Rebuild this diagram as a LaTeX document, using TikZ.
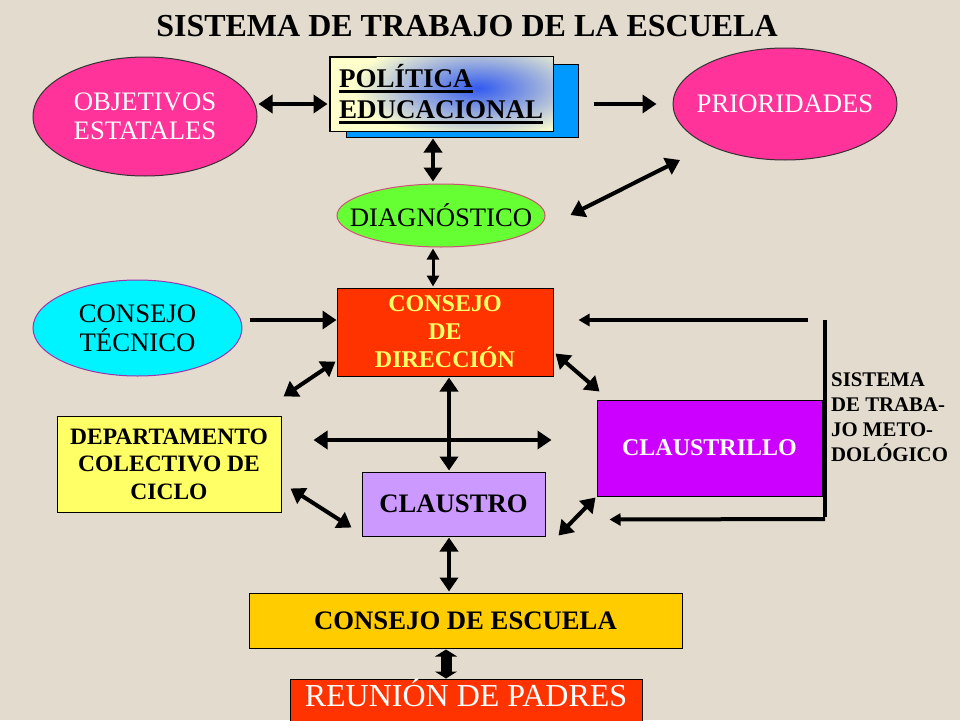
\documentclass[tikz,border=0pt]{standalone}
\usepackage{fontspec}
\setmainfont{Liberation Serif}
\usetikzlibrary{shapes.geometric,arrows.meta,calc}
\definecolor{bgc}{HTML}{E2DBCE}
\definecolor{pinkc}{HTML}{FF3399}
\definecolor{creamc}{HTML}{FFFFCC}
\definecolor{bluebk}{HTML}{0099FF}
\definecolor{greenc}{HTML}{66FF33}
\definecolor{cyanc}{HTML}{00F4FF}
\definecolor{redc}{HTML}{FF3300}
\definecolor{yelc}{HTML}{FFFF66}
\definecolor{lavc}{HTML}{CC99FF}
\definecolor{purc}{HTML}{CC00FF}
\definecolor{goldc}{HTML}{FFCC00}
\definecolor{blueblob}{RGB}{50,90,240}
\newcommand\myfs[2]{\fontsize{#1}{#2}\selectfont}
\newcommand\ulbox[1]{\leavevmode\vtop{\hbox{#1}\kern2.5pt\hrule height 3pt}}
\tikzset{
  box/.style={rectangle, draw=black, line width=1pt, inner sep=0pt},
  oval/.style={ellipse, line width=1pt, inner sep=0pt},
  tip/.tip={Triangle[length=14pt,width=18pt]},
  smalltip/.tip={Triangle[length=11pt,width=12pt]},
  arr/.style={line width=4.5pt, -tip},
  darr/.style={line width=4.5pt, tip-tip},
  diagarr/.style={line width=4pt, tip-tip},
  thinarr/.style={line width=3pt, smalltip-smalltip},
  brarr/.style={line width=4pt, -smalltip},
  brline/.style={line width=4pt},
  fatarr/.style={line width=11pt, {Triangle[length=7pt,width=22pt]}-{Triangle[length=7pt,width=22pt]}},
}
\begin{document}
\begin{tikzpicture}[x=1pt,y=-1pt]
\fill[bgc] (0,0) rectangle (960,720);
\useasboundingbox (0,0) rectangle (960,720);

% title
\node[anchor=base, font={\myfs{32}{35}\bfseries}] (title) at (467,36) {SISTEMA DE TRABAJO DE LA ESCUELA};

% top row
\node[oval, fill=pinkc, draw=black!80, minimum width=224, minimum height=119,
  label={[text=white, align=center, font={\myfs{26.7}{28.5}}]center:OBJETIVOS\\ESTATALES}] (obj) at (145,116.5) {};
\node[box, fill=bluebk, minimum width=232, minimum height=73] (polback) at (462,100.5) {};
\node[box, fill=creamc, minimum width=223, minimum height=74] (pol) at (441.5,94) {};
\begin{scope}
\clip (pol.south west) rectangle (pol.north east);
\shade[inner color=blueblob, outer color=creamc] (478,88) ellipse [x radius=125, y radius=52];
\end{scope}
\draw[line width=1pt] (pol.south west) rectangle (pol.north east);
\node[anchor=base west, inner sep=0pt, font={\myfs{27}{31}\bfseries}] (pol1) at (339,87) {\ulbox{POLÍTICA}};
\node[anchor=base west, inner sep=0pt, font={\myfs{27}{31}\bfseries}] (pol2) at (339,118) {\ulbox{EDUCACIONAL}};
\node[oval, fill=pinkc, draw=black!80, minimum width=224, minimum height=112,
  label={[text=white, font={\myfs{26.7}{28.5}}]center:PRIORIDADES}] (pri) at (785,104) {};
\node[oval, fill=greenc, draw={rgb,255:red,210;green,80;blue,120}, minimum width=208, minimum height=63,
  label={[font={\myfs{26.7}{28.5}}]center:DIAGNÓSTICO}] (diag) at (441,215.5) {};

% middle
\node[oval, fill=cyanc, draw={rgb,255:red,160;green,50;blue,170}, minimum width=209, minimum height=96,
  label={[align=center, font={\myfs{26.7}{29}}]center:CONSEJO\\TÉCNICO}] (ct) at (137.5,328) {};
\node[box, fill=redc, minimum width=216, minimum height=88, text=yelc, align=center, font={\myfs{24}{28}\bfseries}] (cd) at (445,332) {CONSEJO\\DE\\DIRECCIÓN};
\node[box, fill=yelc, minimum width=224, minimum height=96, align=center, font={\myfs{23.5}{27.5}\bfseries}] (dept) at (169,464) {DEPARTAMENTO\\COLECTIVO DE\\CICLO};
\node[box, fill=lavc, minimum width=183, minimum height=64, font={\myfs{26.7}{28}\bfseries}] (cl) at (453.5,504) {CLAUSTRO};
\node[box, fill=purc, minimum width=225, minimum height=96, text=white, font={\myfs{24}{28}\bfseries}] (cll) at (709.5,448) {CLAUSTRILLO};
\node[anchor=west, inner sep=0pt, align=left, font={\myfs{20.8}{25}\bfseries}] (stm) at (831,417) {SISTEMA\\DE TRABA-\\JO METO-\\DOLÓGICO};

% bottom
\node[box, fill=goldc, minimum width=433, minimum height=55, font={\myfs{26.7}{28}\bfseries}] (ce) at (465.5,620.5) {CONSEJO DE ESCUELA};
\node[box, fill=redc, minimum width=352, minimum height=60] (rp) at (466,709) {};
\node[anchor=base, inner sep=0pt, text=white, font={\myfs{32}{34}}] (rplab) at ($(rp.north)+(0,28)$) {REUNIÓN DE PADRES};

% bracket coordinates
\coordinate (brtop) at (808,320);
\coordinate (bra) at (825,320);
\coordinate (brb) at (825,519);

% connectors
\draw[darr] ($(obj.east)+(1,-12.5)$) -- ($(pol.west)+(-2,10)$);
\draw[arr] ($(polback.east)+(15,3.5)$) -- ($(pri.west)+(-16,0)$);
\draw[darr] ($(polback.south)+(-29,1)$) -- ($(diag.north)+(-8,-2)$);
\draw[diagarr] ($(pri.center)+(-105,56)$) -- ($(diag.east)+(25,-0.5)$);
\draw[thinarr] ($(diag.south)+(-8,1)$) -- ($(cd.north)+(-12,-1)$);
\draw[arr] ($(ct.east)+(7,-8)$) -- ($(cd.west)+(0,-12)$);
\draw[brarr] (brtop) -- ($(cd.east)+(25,-12)$);
\draw[brline] (bra) -- ([yshift=2pt]brb);
\draw[brarr] (brb) -- ($(cll.south west)+(13,23)$);
\draw[diagarr] ($(dept.north east)+(2,-19)$) -- ($(cd.south west)+(-1,-15)$);
\draw[diagarr] ($(cd.south east)+(2,-23)$) -- ($(cll.north west)+(3,-8)$);
\draw[darr] ($(dept.east)+(32,-24)$) -- ($(cll.west)+(-45,-8)$);
\draw[darr] ($(cd.south)+(4,1)$) -- ($(cl.north)+(-4.5,-1)$);
\draw[diagarr] ($(dept.south east)+(9,-24)$) -- ($(cl.south west)+(-10,-9)$);
\draw[diagarr] ($(cl.south east)+(13,-1)$) -- ($(cll.south west)+(-1,1)$);
\draw[darr] ($(cl.south)+(-4.5,1)$) -- ($(ce.north)+(-16.5,-1)$);
\draw[fatarr] ($(ce.south)+(-19.5,1)$) -- ($(rp.north)+(-20,0)$);
\end{tikzpicture}
\end{document}
